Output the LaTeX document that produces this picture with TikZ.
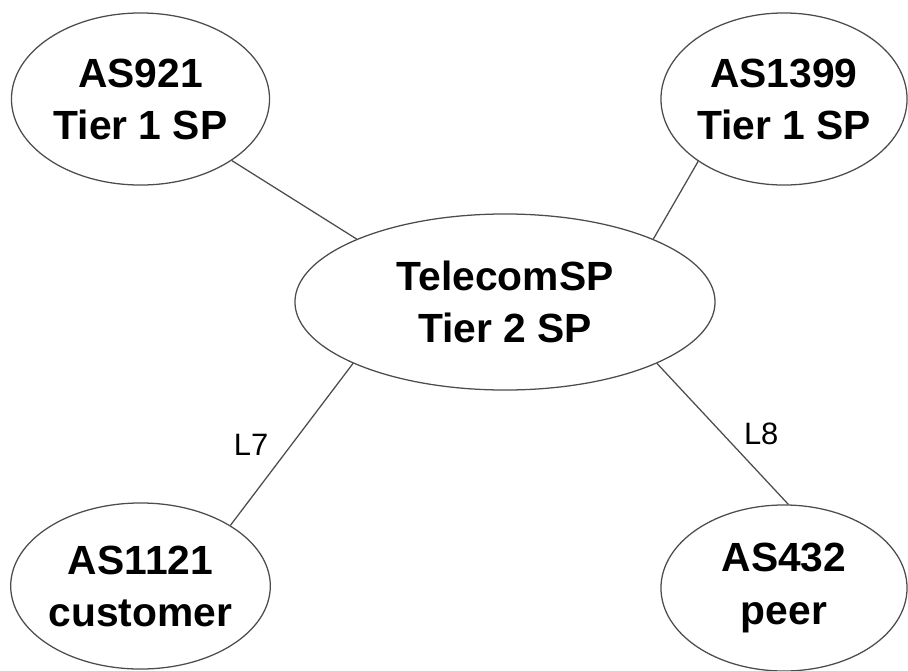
\documentclass[tikz,border=0pt]{standalone}
\usepackage{fontspec}
\setmainfont{Liberation Sans}
\usetikzlibrary{shapes.geometric}

\begin{document}
\begin{tikzpicture}[x=0.025cm, y=-0.025cm,
	as/.style={ellipse, draw=black!70, line width=0.9pt, inner sep=0pt, align=center,
		minimum height=4.3cm, font=\fontsize{29}{37}\selectfont\bfseries},
	link/.style={draw=black!70, line width=0.9pt},
	lbl/.style={font=\fontsize{22}{26}\selectfont}]
	\useasboundingbox (0,0) rectangle (908,671);

	% Nodes {AS921, AS1399, TelecomSP, AS1121, AS432}
	\node [as, minimum width=6.45cm] (as921)  at (140.5,99)  {AS921\\Tier 1 SP};
	\node [as, minimum width=6.15cm] (as1399) at (784,99)    {AS1399\\Tier 1 SP};
	\node [as, minimum width=10.5cm, minimum height=4.4cm] (tsp) at (505,302) {TelecomSP\\Tier 2 SP};
	\node [as, minimum width=6.45cm, minimum height=4.15cm] (as1121) at (140.5,586) {AS1121\\customer};
	\node [as, minimum width=6.15cm, minimum height=4.15cm] (as432)  at (784,588)   {AS432\\peer};

	% Links, L7 and L8 labelled
	\path [link] (as921.-34)   edge (tsp.157)
	             (as1399.-144) edge (tsp.23)
	             (tsp.202)     edge node [lbl, midway, left=0.45cm] {L7} (as1121.34)
	             (tsp.-22)     edge node [lbl, midway, right=0.4cm] {L8} (as432.87);

\end{tikzpicture}
\end{document}
